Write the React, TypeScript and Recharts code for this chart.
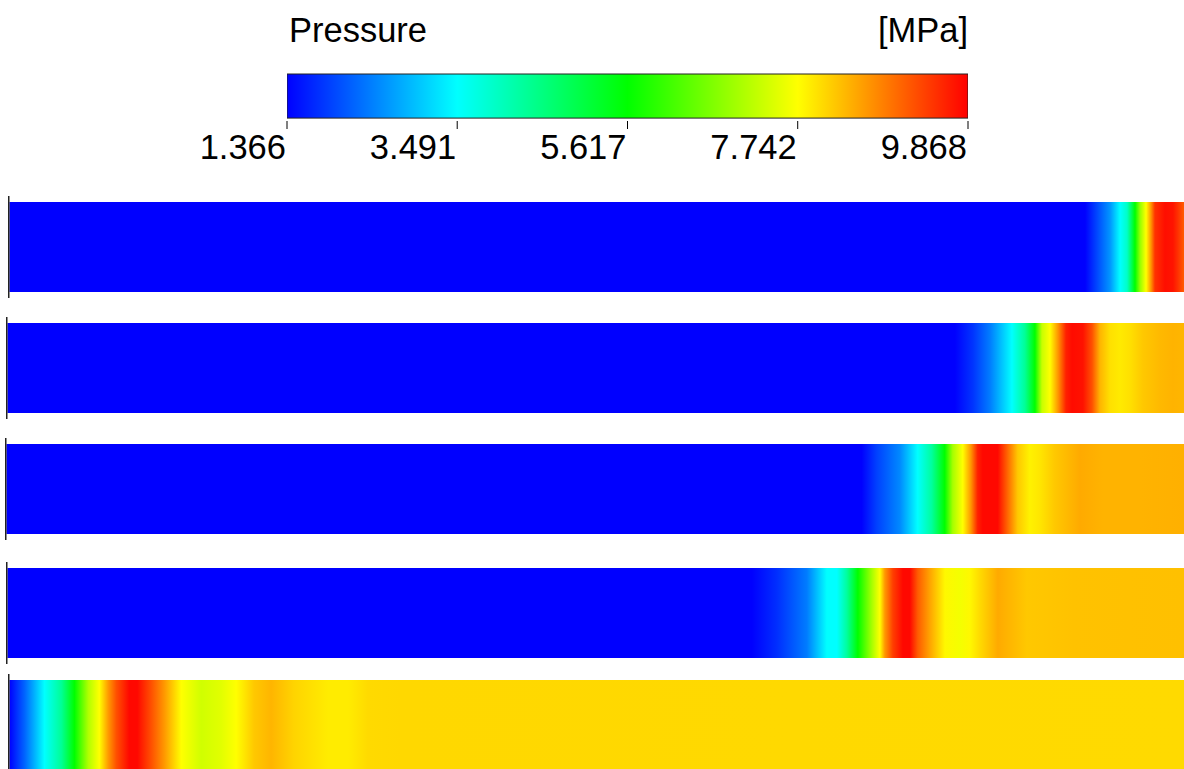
import React from 'react';
import { BarChart, Bar, XAxis, YAxis } from 'recharts';

// ---------- data ----------
const P_MIN = 1.366;
const P_MAX = 9.868;
const colorbarTicks = [1.366, 3.491, 5.617, 7.742, 9.868];
const quantityLabel = 'Pressure';
const unitLabel = '[MPa]';

// axial position along each channel (% of length) and pressure (MPa)
const strip1Pos = [0, 91.58, 92.86, 93.71, 94.56, 95.15, 95.83, 96.26, 96.77, 97.19, 97.53, 98.38, 99.06, 99.49, 100];
const strip1P = [1.366, 1.366, 2.12, 2.62, 3.49, 3.95, 5.617, 6.87, 7.742, 8.62, 9.45, 9.75, 9.7, 9.45, 9.1];

const strip2Pos = [0, 80.53, 82.06, 83.5, 84.35, 85.37, 86.48, 87.33, 87.93, 88.61, 89.29, 89.97, 90.48, 91.41, 92.18, 92.86, 93.71, 94.56, 95.41, 96.51, 97.96, 99.06, 100];
const strip2P = [1.366, 1.366, 1.8, 2.4, 2.9, 3.49, 4.37, 5.617, 7.28, 7.742, 8.62, 9.6, 9.78, 9.72, 9.2, 8.36, 8.0, 7.92, 8.0, 8.2, 8.33, 8.38, 8.35];

const strip3Pos = [0, 72.62, 73.89, 75.85, 77.38, 78.57, 79.68, 80.36, 81.21, 81.89, 82.48, 82.91, 84.18, 85.03, 85.88, 86.9, 87.76, 89.03, 91.16, 93.11, 96.26, 100];
const strip3P = [1.366, 1.366, 1.9, 2.5, 3.49, 4.3, 5.617, 7.0, 7.742, 8.6, 9.6, 9.8, 9.8, 9.0, 8.2, 7.85, 7.95, 8.2, 8.45, 8.38, 8.38, 8.4];

const strip4Pos = [0, 63.27, 65.39, 67.94, 69.64, 70.49, 71.34, 72.28, 73.47, 74.15, 74.57, 75.26, 76.11, 76.7, 77.38, 78.4, 79.68, 80.95, 81.8, 82.65, 84.18, 86.65, 90.56, 100];
const strip4P = [1.366, 1.366, 1.75, 2.4, 3.49, 3.49, 4.3, 5.617, 7.0, 7.742, 8.6, 9.35, 9.8, 9.8, 9.1, 8.5, 7.8, 7.65, 7.8, 8.05, 8.45, 8.2, 8.25, 8.27];

const strip5Pos = [0, 1.28, 2.98, 4.42, 5.53, 6.72, 7.65, 8.42, 9.1, 10.2, 10.88, 12.07, 13.18, 14.63, 16.33, 18.03, 19.3, 20.83, 22.28, 24.23, 27.13, 28.83, 30.53, 33.33, 100];
const strip5P = [1.366, 2.2, 3.49, 4.37, 5.617, 7.1, 7.742, 8.6, 9.2, 9.8, 9.8, 9.2, 8.6, 7.742, 7.35, 7.5, 7.742, 8.2, 8.36, 8.1, 7.9, 7.9, 8.05, 8.07, 8.05];

const stripPositions = [strip1Pos, strip2Pos, strip3Pos, strip4Pos, strip5Pos];
const stripPressures = [strip1P, strip2P, strip3P, strip4P, strip5P];
const stripNames = ['Case 1', 'Case 2', 'Case 3', 'Case 4', 'Case 5'];

// ---------- layout (not data) ----------
const STRIP_LAYOUT = [
  { top: 196, left: 8 },
  { top: 317, left: 6 },
  { top: 438, left: 5 },
  { top: 562, left: 6 },
  { top: 674, left: 8 },
];
const FONT = '"Liberation Sans", Arial, Helvetica, sans-serif';
const FONT_SIZE = 34.5;

// ---------- colour map ----------
const JET: number[][] = [
  [0, 0, 255],
  [0, 255, 255],
  [0, 255, 0],
  [255, 255, 0],
  [255, 0, 0],
];
function jet(v: number): string {
  let t = (v - P_MIN) / (P_MAX - P_MIN);
  t = Math.max(0, Math.min(1, t));
  const s = t * 4;
  const i = Math.min(3, Math.floor(s));
  const f = s - i;
  const a = JET[i];
  const b = JET[i + 1];
  const c = a.map((x, k) => Math.round(x + (b[k] - x) * f));
  return `rgb(${c[0]},${c[1]},${c[2]})`;
}

const ColorbarTick = (props: any) => {
  const { x, y, payload } = props;
  return (
    <text
      x={x - 1}
      y={y + 28}
      textAnchor="end"
      fontFamily={FONT}
      fontSize={FONT_SIZE}
      fill="#000"
    >
      {Number(payload.value).toFixed(3)}
    </text>
  );
};

const Colorbar = () => {
  const data = [{ name: quantityLabel, range: [P_MIN, P_MAX] }];
  return (
    <BarChart
      width={1184}
      height={172}
      data={data}
      layout="vertical"
      margin={{ top: 72, right: 216, left: 287, bottom: 0 }}
      barCategoryGap={0}
    >
      <defs>
        <linearGradient id="cbGrad" x1="0" y1="0" x2="1" y2="0">
          {colorbarTicks.map((_, i) => {
            const v = P_MIN + ((P_MAX - P_MIN) * i) / 4;
            return <stop key={i} offset={`${i * 25}%`} stopColor={jet(v)} />;
          })}
        </linearGradient>
      </defs>
      <YAxis type="category" dataKey="name" hide />
      <XAxis
        type="number"
        domain={[P_MIN, P_MAX]}
        ticks={colorbarTicks}
        interval={0}
        height={51}
        axisLine={false}
        tickSize={8}
        tickLine={{ stroke: '#000', strokeWidth: 1 }}
        tick={<ColorbarTick />}
        allowDataOverflow
      />
      <Bar
        dataKey="range"
        barSize={49}
        fill="url(#cbGrad)"
        stroke="#222"
        strokeWidth={1}
        isAnimationActive={false}
      />
    </BarChart>
  );
};

const StripShape = (props: any) => {
  const { x, y, width, height, fill } = props;
  return (
    <g>
      <rect x={x + 1.5} y={y} width={Math.max(0, width - 1.5)} height={height} fill={fill} />
      <line x1={x + 0.75} x2={x + 0.75} y1={y - 6} y2={y + height + 6} stroke="#222" strokeWidth={1.5} />
    </g>
  );
};

const Strip = ({ idx }: { idx: number }) => {
  const { left } = STRIP_LAYOUT[idx];
  const id = `stripGrad${idx}`;
  const pos = stripPositions[idx];
  const pr = stripPressures[idx];
  const data = [{ name: stripNames[idx], length: 100 }];
  return (
    <BarChart
      width={1184 - left}
      height={102}
      data={data}
      layout="vertical"
      margin={{ top: 0, right: 0, left: 0, bottom: 0 }}
    >
      <defs>
        <linearGradient id={id} x1="0" y1="0" x2="1" y2="0">
          {pos.map((p, i) => (
            <stop key={i} offset={`${p}%`} stopColor={jet(pr[i])} />
          ))}
        </linearGradient>
      </defs>
      <XAxis type="number" domain={[0, 100]} hide />
      <YAxis type="category" dataKey="name" hide />
      <Bar
        dataKey="length"
        barSize={90}
        fill={`url(#${id})`}
        shape={<StripShape />}
        isAnimationActive={false}
      />
    </BarChart>
  );
};

export default function App() {
  return (
    <div
      style={{
        position: 'fixed',
        left: 0,
        top: 0,
        width: 1184,
        height: 769,
        overflow: 'hidden',
        background: '#fff',
        fontFamily: FONT,
      }}
    >
      <svg width={1184} height={60} style={{ position: 'absolute', left: 0, top: 0 }}>
        <text x={289} y={42} fontFamily={FONT} fontSize={FONT_SIZE} fill="#000">
          {quantityLabel}
        </text>
        <text x={968} y={42} fontFamily={FONT} fontSize={FONT_SIZE} fill="#000" textAnchor="end">
          {unitLabel}
        </text>
      </svg>
      <div style={{ position: 'absolute', left: 0, top: 0 }}>
        <Colorbar />
      </div>
      {STRIP_LAYOUT.map((l, i) => (
        <div key={i} style={{ position: 'absolute', left: l.left, top: l.top }}>
          <Strip idx={i} />
        </div>
      ))}
    </div>
  );
}
